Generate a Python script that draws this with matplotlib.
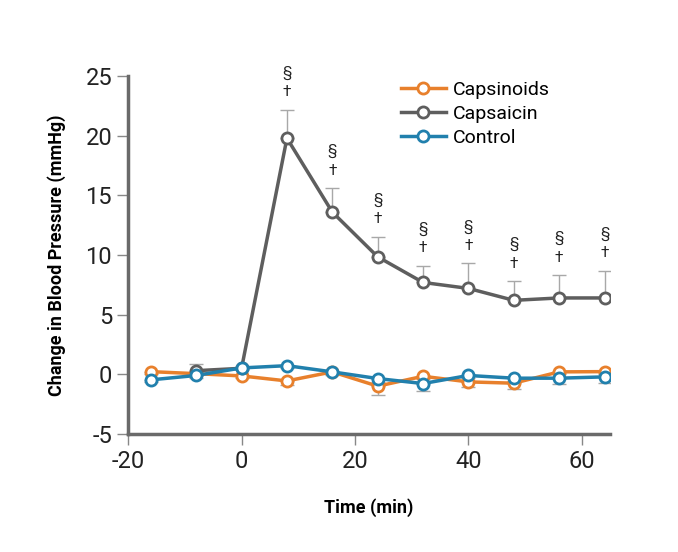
import matplotlib
matplotlib.use("Agg")
from matplotlib import pyplot as plt

# time points (min) and the three series
time = [-16, -8, 0, 8, 16, 24, 32, 40, 48, 56, 64]
capsinoids = [0.22, 0.05, -0.14, -0.56, 0.2, -1.0, -0.17, -0.64, -0.75, 0.2, 0.22]
capsinoidsErr = [0.2, 0.2, 0.2, 0.35, 0.2, 0.7, 0.2, 0.42, 0.45, 0.2, 0.2]
control = [-0.47, -0.1, 0.53, 0.72, 0.2, -0.36, -0.78, -0.1, -0.33, -0.33, -0.22]
controlErr = [0.2, 0.2, 0.2, 0.2, 0.3, 0.3, 0.6, 0.2, 0.2, 0.45, 0.5]
capsTime = [-8, 0, 8, 16, 24, 32, 40, 48, 56, 64]
capsaicin = [0.3, 0.5, 19.8, 13.6, 9.85, 7.7, 7.2, 6.2, 6.4, 6.4]
capsaicinErr = [0.6, 0.2, 2.4, 2.0, 1.7, 1.4, 2.1, 1.6, 1.9, 2.3]

orange = "#e8802c"
gray = "#5e5e5e"
blue = "#2180ad"
errColor = "#a8a8a8"

plt.rcParams['font.family'] = ['Roboto', 'DejaVu Sans']
plt.rcParams['axes.unicode_minus'] = False

fig = plt.figure(figsize=(6.78, 5.52), dpi=100)
ax = fig.add_axes([0.189, 0.214, 0.711, 0.648])

# error bars (one-sided: down for the flat series, up for capsaicin)
ax.errorbar(time, capsinoids, yerr=[capsinoidsErr, [0] * len(time)], fmt="none",
            ecolor=errColor, elinewidth=1, capsize=5, zorder=1)
ax.errorbar(time, control, yerr=[controlErr, [0] * len(time)], fmt="none",
            ecolor=errColor, elinewidth=1, capsize=5, zorder=1)
ax.errorbar(capsTime, capsaicin, yerr=[[0] * len(capsTime), capsaicinErr], fmt="none",
            ecolor=errColor, elinewidth=1, capsize=5, zorder=1)

ax.plot(time, capsinoids, color=orange, lw=2.5, marker="o", ms=8, mfc="white",
        mew=2, label="Capsinoids", zorder=3)
ax.plot(capsTime, capsaicin, color=gray, lw=2.5, marker="o", ms=8, mfc="white",
        mew=2, label="Capsaicin", zorder=4)
ax.plot(time, control, color=blue, lw=2.5, marker="o", ms=8, mfc="white",
        mew=2, label="Control", zorder=5)

# significance marks above capsaicin error bars
for t, v, e in zip(capsTime[2:], capsaicin[2:], capsaicinErr[2:]):
    top = v + e
    ax.text(t, top + 0.9, "\u2020", ha="center", va="bottom", fontsize=11, color="#222222")
    ax.text(t, top + 2.5, "\u00a7", ha="center", va="bottom", fontsize=11, color="#222222")

ax.set_xlim(-20, 65)
ax.set_ylim(-5, 25)
ax.set_xticks([-20, 0, 20, 40, 60])
ax.set_yticks([-5, 0, 5, 10, 15, 20, 25])

for side in ["top", "right"]:
    ax.spines[side].set_visible(False)
for side in ["left", "bottom"]:
    ax.spines[side].set_color("#6a6a6a")
    ax.spines[side].set_linewidth(2.5)
ax.tick_params(axis="both", colors="#888888", length=8, width=1, labelsize=17,
               labelcolor="#222222")

ax.set_xlabel("Time (min)", fontsize=13, fontweight="bold", labelpad=18)
ax.set_ylabel("Change in Blood Pressure (mmHg)", fontsize=13, fontweight="bold", labelpad=14)

ax.legend(loc="upper left", bbox_to_anchor=(0.53, 1.035), frameon=False, fontsize=14,
          handlelength=2.3, handletextpad=0.35, labelspacing=0.3)

fig.savefig("out.png", dpi=100)
